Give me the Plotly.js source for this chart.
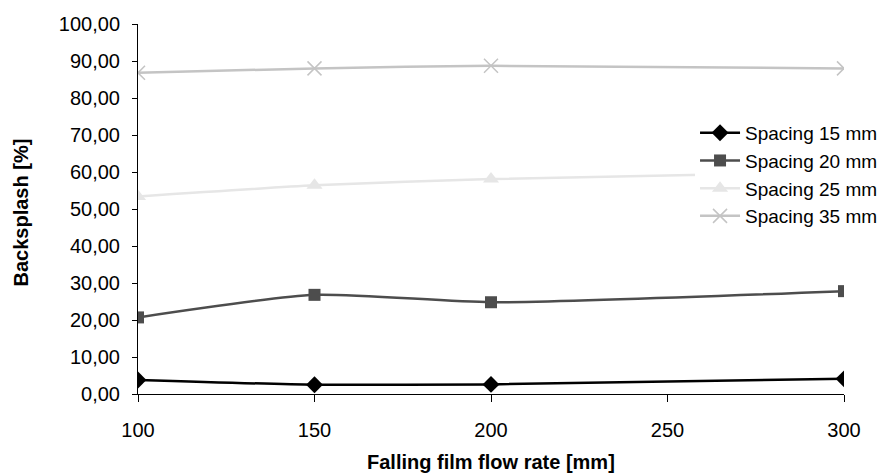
<!DOCTYPE html>
<html>
<head>
<meta charset="utf-8">
<script src="https://cdn.plot.ly/plotly-3.0.1.min.js"></script>
<style>
html, body { margin: 0; padding: 0; background: #fff; }
#chart { width: 895px; height: 476px; }
</style>
</head>
<body>
<div id="chart"></div>
<script>
// Data
const flowRate = [100, 150, 200, 300];
const seriesNames = ["Spacing 15 mm", "Spacing 20 mm", "Spacing 25 mm", "Spacing 35 mm"];
const spacing15 = [3.8, 2.5, 2.6, 4.1];
const spacing20 = [20.7, 26.8, 24.8, 27.8];
const spacing25 = [53.4, 56.4, 58.1, 60.0];
const spacing35 = [86.8, 88.0, 88.7, 88.0];
const xTicks = [100, 150, 200, 250, 300];
const yTicks = [0, 10, 20, 30, 40, 50, 60, 70, 80, 90, 100];

const styles = [
  {color: "#000000", symbol: "diamond", size: 13},
  {color: "#4d4d4d", symbol: "square", size: 12},
  {color: "#e6e6e6", symbol: "triangle-up", size: 14},
  {color: "#c4c4c4", symbol: "x-thin", size: 14}
];
const values = [spacing15, spacing20, spacing25, spacing35];

const traces = values.map((v, i) => ({
  x: flowRate,
  y: v,
  name: seriesNames[i],
  type: "scatter",
  mode: "lines+markers",
  line: {color: styles[i].color, width: 2.5, shape: "spline", smoothing: 0.6},
  marker: {
    color: styles[i].color,
    symbol: styles[i].symbol,
    size: styles[i].size,
    line: {color: styles[i].color, width: styles[i].symbol === "x-thin" ? 1.5 : 0}
  }
}));

const font = {family: "Liberation Sans, Arial, sans-serif", color: "#000", size: 20};

const layout = {
  width: 895,
  height: 476,
  margin: {l: 138, r: 49, t: 24, b: 82},
  paper_bgcolor: "#fff",
  plot_bgcolor: "#fff",
  font: font,
  separators: ", ",
  showlegend: true,
  legend: {
    x: 0.789, y: 0.757, xanchor: "left", yanchor: "top",
    bgcolor: "#fff", borderwidth: 0,
    font: {family: font.family, size: 19, color: "#000"},
    tracegroupgap: 0, itemwidth: 40
  },
  xaxis: {
    range: [100, 300],
    tickvals: xTicks,
    ticktext: xTicks.map(String),
    showgrid: false, zeroline: false,
    showline: true, linecolor: "#000", linewidth: 1,
    ticks: "outside", ticklen: 7, tickcolor: "#000", tickwidth: 1,
    ticklabelstandoff: 11,
    tickfont: {family: font.family, size: 20, color: "#000"}
  },
  yaxis: {
    range: [0, 100],
    tickvals: yTicks,
    tickformat: ".2f",
    showgrid: false, zeroline: false,
    showline: true, linecolor: "#000", linewidth: 1,
    ticks: "outside", ticklen: 5, tickcolor: "#000", tickwidth: 1,
    ticklabelstandoff: 8,
    tickfont: {family: font.family, size: 20, color: "#000"}
  },
  annotations: [
    {
      text: "<b>Falling film flow rate [mm]</b>",
      xref: "paper", yref: "paper", x: 0.5, y: -0.184,
      xanchor: "center", yanchor: "middle", showarrow: false,
      font: {family: font.family, size: 20, color: "#000"}
    },
    {
      text: "<b>Backsplash [%]</b>",
      xref: "paper", yref: "paper", x: -0.166, y: 0.49,
      xanchor: "center", yanchor: "middle", showarrow: false, textangle: -90,
      font: {family: font.family, size: 20, color: "#000"}
    }
  ]
};

Plotly.newPlot("chart", traces, layout, {displayModeBar: false, staticPlot: true});
</script>
</body>
</html>
